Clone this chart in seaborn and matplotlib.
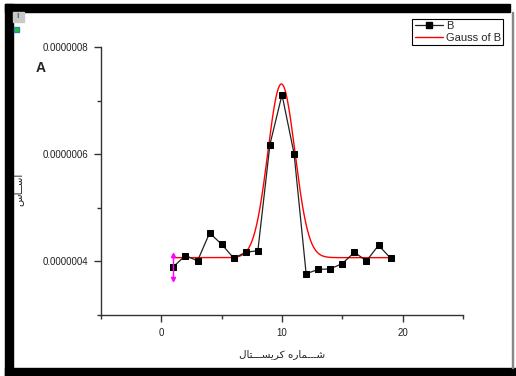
import numpy as np
import pandas as pd
import matplotlib
matplotlib.use("Agg")
import matplotlib.pyplot as plt
import seaborn as sns
from matplotlib.patches import Rectangle
from matplotlib.lines import Line2D
from matplotlib.ticker import MultipleLocator, FormatStrFormatter

# ---- data ----
crystal_no = [1, 2, 3, 4, 5, 6, 7, 8, 9, 10, 11, 12, 13, 14, 15, 16, 17, 18, 19]
b_values = [3.90e-7, 4.11e-7, 4.01e-7, 4.53e-7, 4.32e-7, 4.06e-7, 4.17e-7, 4.20e-7,
            6.18e-7, 7.11e-7, 6.01e-7, 3.77e-7, 3.85e-7, 3.86e-7, 3.96e-7, 4.17e-7,
            4.01e-7, 4.30e-7, 4.06e-7]
# Gauss fit parameters (Origin "Gauss of B")
fit_y0 = 4.07e-7
fit_peak = 7.31e-7
fit_xc = 9.95
fit_w = 2.25
fit_range = [1, 19]
# error bar shown on the first point
err_index = 0
err_value = 0.22e-7

x_label_vis = "\uFEDD\uFE8E\uFE98\u0640\u0640\u0640\uFEB4\uFEF3\uFEAE\uFEDB \uFEE9\uFEAD\uFE8E\uFEE4\u0640\u0640\u0640\uFEB7"
y_label_vis = "\uFEB1\uFE8E\u0640\u0640\uFEB3\uFE8D"

sns.set_theme(style="white")
plt.rcParams['font.family'] = ['Liberation Sans', 'DejaVu Sans']

W, H = 516, 376
fig = plt.figure(figsize=(W / 100, H / 100), dpi=100)
fig.patch.set_facecolor("white")

ax = fig.add_axes([101 / W, 1 - 315 / H, (463 - 101) / W, (315 - 47) / H])
ax.set_facecolor("white")

df = pd.DataFrame({"x": crystal_no, "B": b_values})
xf = np.linspace(fit_range[0], fit_range[1], 400)
yf = fit_y0 + (fit_peak - fit_y0) * np.exp(-2 * ((xf - fit_xc) / fit_w) ** 2)
dff = pd.DataFrame({"x": xf, "fit": yf})

sns.lineplot(data=dff, x="x", y="fit", ax=ax, color="#ff0000", linewidth=1.0, zorder=2)
sns.lineplot(data=df, x="x", y="B", ax=ax, color="#222222", linewidth=0.9,
             marker="s", markersize=4.5, markerfacecolor="black",
             markeredgecolor="black", zorder=3)

ex = crystal_no[err_index]
ey = b_values[err_index]
ax.errorbar([ex], [ey], yerr=[err_value], fmt="none", ecolor="#ff00ff",
            elinewidth=1.0, capsize=0, zorder=4)
ax.plot([ex], [ey + err_value], marker="^", color="#ff00ff", markersize=3, zorder=4)
ax.plot([ex], [ey - err_value], marker="v", color="#ff00ff", markersize=3, zorder=4)

ax.set_xlim(-5, 25)
ax.set_ylim(3e-7, 8e-7)
ax.xaxis.set_major_locator(MultipleLocator(10))
ax.xaxis.set_minor_locator(MultipleLocator(5))
ax.yaxis.set_major_locator(MultipleLocator(2e-7))
ax.yaxis.set_minor_locator(MultipleLocator(1e-7))
ax.yaxis.set_major_formatter(FormatStrFormatter("%.7f"))

for s in ["top", "right"]:
    ax.spines[s].set_visible(False)
for s in ["left", "bottom"]:
    ax.spines[s].set_color("#333333")
    ax.spines[s].set_linewidth(1.0)

ax.tick_params(axis="both", which="major", direction="out", length=5, width=1,
               color="#333333", labelsize=7, labelcolor="#222222", pad=4,
               left=True, bottom=True)
ax.tick_params(axis="both", which="minor", direction="out", length=3, width=1,
               color="#333333", left=True, bottom=True)

ax.set_xlabel(x_label_vis, fontsize=7.5, family=["DejaVu Sans"], color="#222222", labelpad=8)
ax.set_ylabel(y_label_vis, fontsize=7.5, family=["DejaVu Sans"], color="#222222")
ax.yaxis.set_label_coords(-0.215, 0.47)

handles = [
    Line2D([], [], color="#222222", linewidth=0.9, marker="s", markersize=4.5,
           markerfacecolor="black", markeredgecolor="black"),
    Line2D([], [], color="#ff0000", linewidth=1.0),
]
leg = fig.legend(handles, ["B", "Gauss of B"], loc="upper right",
                 bbox_to_anchor=(503 / W, 1 - 19 / H), fontsize=8,
                 frameon=True, fancybox=False, framealpha=1, edgecolor="black",
                 borderpad=0.2, labelspacing=0.15, handlelength=2.6,
                 handletextpad=0.2, borderaxespad=0)
leg.get_frame().set_linewidth(0.8)

fig.text(36 / W, 1 - 68 / H, "A", fontsize=10, fontweight="bold", va="center", ha="left")

# frame decorations
def frect(x0, y0, x1, y1, color):
    fig.patches.append(Rectangle((x0 / W, 1 - y1 / H), (x1 - x0) / W, (y1 - y0) / H,
                                 transform=fig.transFigure, color=color, zorder=10))

frect(5, 4, 13, 376, "black")
frect(5, 4, 510, 12, "black")
frect(5, 368, 516, 376, "black")
frect(512, 12, 513, 368, "#888888")
frect(13, 12, 24, 22, "#c8c8c8")
fig.text(17 / W, 1 - 17 / H, "I", fontsize=6, va="center", ha="center", zorder=11)
frect(14, 27, 19, 32, "#2a7fd0")
frect(15, 28, 18, 31, "#22bb33")

fig.savefig("out.png", dpi=100, facecolor="white")
